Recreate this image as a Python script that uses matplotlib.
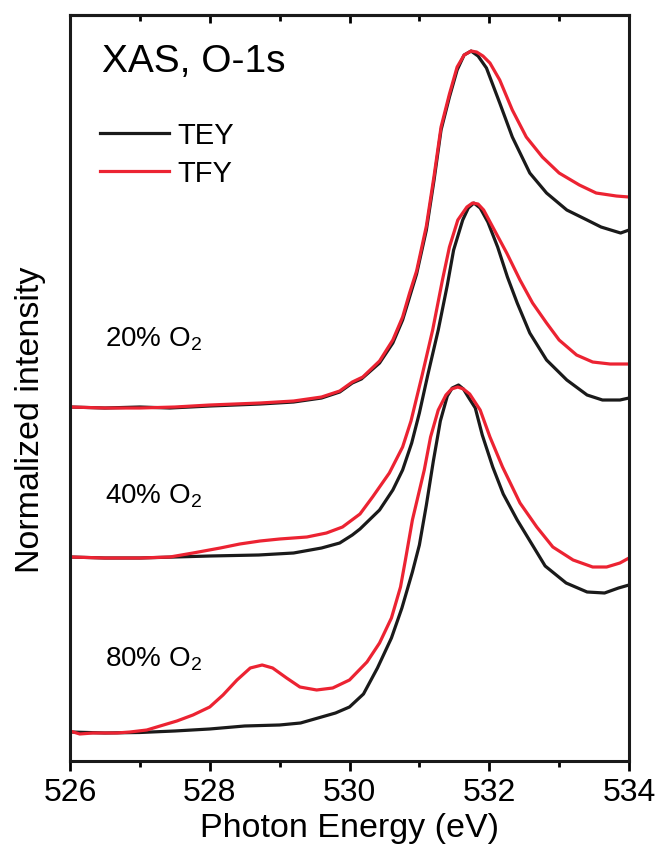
import matplotlib
matplotlib.use("Agg")
import matplotlib.pyplot as plt
from matplotlib.ticker import MultipleLocator

plt.rcParams['font.family'] = ['Liberation Sans', 'DejaVu Sans']
plt.rcParams['mathtext.fontset'] = 'custom'
plt.rcParams['mathtext.rm'] = 'Liberation Sans'
plt.rcParams['mathtext.it'] = 'Liberation Sans:italic'

# ---------------- data (photon energy in eV, intensity in a.u., offset stacked) -------------
e_80_tey = [526.0, 526.5, 527.0, 527.5, 528.0, 528.5, 529.0, 529.3, 529.5, 529.8, 530.0, 530.2,
            530.4, 530.6, 530.75, 530.9, 531.0, 531.1, 531.2, 531.3, 531.4, 531.47, 531.56, 531.63,
            531.7, 531.8, 531.9, 532.05, 532.2, 532.4, 532.6, 532.8, 533.1, 533.4, 533.65, 533.85,
            534.0]
i_80_tey = [29, 28, 28.5, 30, 32, 35, 36, 38, 42, 48, 54, 67,
            93, 123, 153, 189, 216, 256, 300, 340, 365, 373, 376, 372,
            364, 353, 326, 294, 267, 241, 218, 195, 178, 169, 168, 173,
            176]

e_80_tfy = [526.0, 526.14, 526.33, 526.67, 526.86, 527.1, 527.29, 527.53, 527.76, 528.0, 528.19,
            528.39, 528.58, 528.75, 528.9, 529.1, 529.29, 529.53, 529.76, 530.0, 530.25, 530.43,
            530.6, 530.73, 530.8, 530.9, 531.07, 531.16, 531.27, 531.38, 531.46, 531.55, 531.63,
            531.72, 531.87, 532.01, 532.19, 532.44, 532.68, 532.91, 533.2, 533.48, 533.68, 533.87,
            534.0]
i_80_tfy = [30, 27, 28, 28, 29, 31, 35, 40, 46, 54, 66,
            81, 93, 96, 93, 83, 74, 71, 73, 81, 99, 118,
            143, 174, 201, 241, 291, 324, 351, 366, 372, 374, 372,
            367, 351, 324, 294, 258, 234, 214, 201, 194, 194, 198,
            203]

e_40_tey = [526.0, 526.5, 527.0, 527.5, 528.0, 528.7, 529.2, 529.6, 529.86, 530.04, 530.15, 530.43,
            530.62, 530.76, 530.89, 531.0, 531.12, 531.27, 531.4, 531.49, 531.62, 531.7, 531.78,
            531.87, 531.98, 532.12, 532.26, 532.4, 532.58, 532.82, 533.11, 533.4, 533.62, 533.87,
            534.0]
i_40_tey = [204, 203, 203, 204, 205, 206, 208, 213, 218, 226, 232, 251,
            271, 291, 318, 348, 386, 431, 476, 511, 541, 553, 558,
            553, 539, 514, 484, 458, 428, 401, 381, 366, 361, 361,
            363]

e_40_tfy = [526.0, 526.5, 527.0, 527.43, 527.76, 528.15, 528.43, 528.72, 529.0, 529.39, 529.67,
            529.9, 530.15, 530.33, 530.57, 530.76, 530.88, 531.04, 531.19, 531.33, 531.43, 531.55,
            531.68, 531.76, 531.84, 531.92, 532.05, 532.25, 532.44, 532.62, 532.82, 533.0, 533.25,
            533.48, 533.73, 534.0]
i_40_tfy = [204, 203, 203, 204, 208, 213, 217, 220, 222, 224, 228,
            234, 247, 264, 288, 314, 340, 386, 431, 481, 514, 541,
            554, 558, 557, 551, 534, 508, 481, 458, 438, 421, 406,
            399, 397, 397]

e_20_tey = [526.0, 526.5, 527.0, 527.43, 528.0, 528.72, 529.2, 529.6, 529.86, 530.04, 530.17,
            530.43, 530.62, 530.76, 530.86, 530.96, 531.1, 531.21, 531.31, 531.43, 531.54, 531.64,
            531.74, 531.84, 531.96, 532.15, 532.33, 532.58, 532.82, 533.11, 533.4, 533.6, 533.88,
            534.0]
i_20_tey = [354, 353, 354, 353, 355, 357, 359, 363, 369, 378, 382,
            398, 418, 441, 464, 487, 531, 581, 631, 664, 691, 706,
            710, 705, 693, 658, 624, 588, 568, 551, 541, 534, 528,
            531]

e_20_tfy = [526.0, 526.5, 527.0, 527.5, 528.0, 528.72, 529.2, 529.6, 529.86, 530.04, 530.19,
            530.43, 530.62, 530.76, 530.86, 530.96, 531.1, 531.21, 531.31, 531.43, 531.54, 531.64,
            531.74, 531.82, 531.91, 532.01, 532.15, 532.33, 532.53, 532.76, 533.0, 533.29, 533.53,
            533.82, 534.0]
i_20_tfy = [354, 353, 353, 354, 356, 358, 360, 364, 370, 379, 384,
            400, 421, 444, 468, 490, 535, 585, 634, 667, 694, 706,
            710, 709, 705, 698, 681, 651, 624, 604, 588, 576, 568,
            565, 564]

sample_labels = ["20% O$_\\mathregular{2}$", "40% O$_\\mathregular{2}$", "80% O$_\\mathregular{2}$"]
sample_label_y = [415, 258, 94]
series_names = ["TEY", "TFY"]
x_ticks = [526, 528, 530, 532, 534]

# ---------------- figure ----------------
fig = plt.figure(figsize=(6.59, 8.59), dpi=100)
ax = fig.add_axes([0.1062, 0.1141, 0.8483, 0.8684])

c_tey = '#1a1a1a'
c_tfy = '#ec2332'
lw = 2.3

ax.plot(e_80_tey, i_80_tey, color=c_tey, lw=lw, label=series_names[0])
ax.plot(e_80_tfy, i_80_tfy, color=c_tfy, lw=lw, label=series_names[1])
ax.plot(e_40_tey, i_40_tey, color=c_tey, lw=lw)
ax.plot(e_40_tfy, i_40_tfy, color=c_tfy, lw=lw)
ax.plot(e_20_tey, i_20_tey, color=c_tey, lw=lw)
ax.plot(e_20_tfy, i_20_tfy, color=c_tfy, lw=lw)

ax.set_xlim(526, 534)
ax.set_ylim(0, 746)
ax.set_yticks([])
ax.xaxis.set_major_locator(MultipleLocator(2))
ax.xaxis.set_minor_locator(MultipleLocator(1))
ax.set_xticks(x_ticks)
ax.tick_params(axis='x', which='major', direction='out', length=7, width=2, pad=5, labelsize=23)
ax.tick_params(axis='x', which='minor', direction='out', length=4.5, width=2)

top = ax.secondary_xaxis('top')
top.xaxis.set_major_locator(MultipleLocator(2))
top.xaxis.set_minor_locator(MultipleLocator(1))
top.tick_params(axis='x', which='major', direction='in', length=6, width=2, labeltop=False)
top.tick_params(axis='x', which='minor', direction='in', length=4, width=2)
top.spines['top'].set_linewidth(2.2)

for s in ax.spines.values():
    s.set_linewidth(2.2)
    s.set_color('#1a1a1a')

ax.set_xlabel("Photon Energy (eV)", fontsize=24.5, labelpad=4)
ax.set_ylabel("Normalized intensity", fontsize=24.5)
ax.yaxis.set_label_coords(-0.043, 0.457)

ax.text(0.057, 0.924, "XAS, O-1s", transform=ax.transAxes, fontsize=28, va='baseline')
for lab, yv in zip(sample_labels, sample_label_y):
    ax.text(526.5, yv, lab, fontsize=20, va='baseline')

ax.legend(loc='upper left', bbox_to_anchor=(0.054, 0.857), frameon=False, fontsize=21,
          handlelength=2.35, handletextpad=0.3, labelspacing=0.34, borderaxespad=0, borderpad=0)

fig.savefig("out.png", dpi=100)
